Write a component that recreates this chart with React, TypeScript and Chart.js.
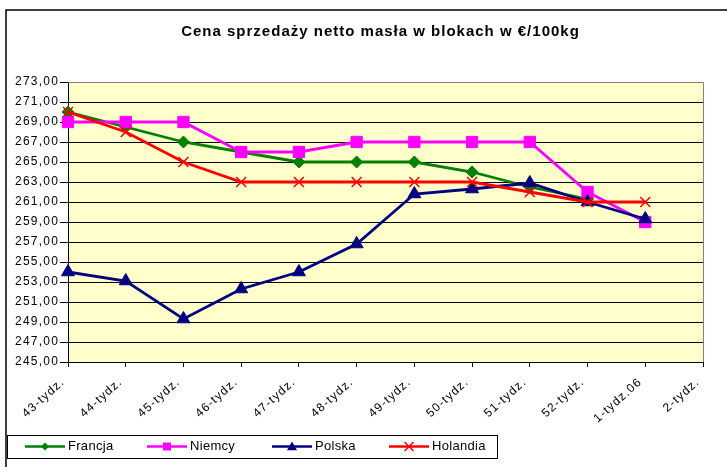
import React, { useEffect, useRef } from 'react';
import { Chart, registerables } from 'chart.js';

Chart.register(...registerables);

const TITLE = 'Cena sprzedaży netto masła w blokach w €/100kg';
const WEEKS = ['43-tydz.', '44-tydz.', '45-tydz.', '46-tydz.', '47-tydz.', '48-tydz.', '49-tydz.', '50-tydz.', '51-tydz.', '52-tydz.', '1-tydz.06', '2-tydz.'];
const SERIES_NAMES = ['Francja', 'Niemcy', 'Polska', 'Holandia'];
const FRANCJA = [270, 268.5, 267, 266, 265, 265, 265, 264, 262.5, 261.3, null, null];
const NIEMCY = [269, 269, 269, 266, 266, 267, 267, 267, 267, 262, 259, null];
const POLSKA = [254, 253.1, 249.3, 252.3, 254, 256.8, 261.8, 262.3, 262.9, 261, 259.3, null];
const HOLANDIA = [270, 268, 265, 263, 263, 263, 263, 263, 262, 261, 261, null];
const Y_MIN = 245;
const Y_MAX = 273;
const Y_STEP = 2;

const FONT = '"Liberation Sans", Arial, sans-serif';
const COLORS = ['#008000', '#FF00FF', '#000080', '#FF0000'];
const STYLES = ['rectRot', 'rect', 'triangle', 'crossRot'];
const Y_SPACING = '1.2px';
const X_SPACING = '1.2px';

function drawMarker(ctx: CanvasRenderingContext2D, style: string, x: number, y: number, r: number, color: string) {
  ctx.save();
  ctx.fillStyle = color;
  ctx.strokeStyle = color;
  ctx.lineWidth = 1.5;
  ctx.beginPath();
  if (style === 'rectRot') {
    ctx.moveTo(x - r, y); ctx.lineTo(x, y - r); ctx.lineTo(x + r, y); ctx.lineTo(x, y + r); ctx.closePath(); ctx.fill();
  } else if (style === 'rect') {
    ctx.rect(x - r, y - r, 2 * r, 2 * r); ctx.fill();
  } else if (style === 'triangle') {
    ctx.moveTo(x, y - r); ctx.lineTo(x + r, y + r * 0.75); ctx.lineTo(x - r, y + r * 0.75); ctx.closePath(); ctx.fill();
  } else {
    ctx.moveTo(x - r, y - r); ctx.lineTo(x + r, y + r); ctx.moveTo(x + r, y - r); ctx.lineTo(x - r, y + r); ctx.stroke();
  }
  ctx.restore();
}

const framePlugin = {
  id: 'frame',
  beforeDraw(chart: any) {
    const { ctx, chartArea: a } = chart;
    ctx.save();
    ctx.fillStyle = '#ffffff';
    ctx.fillRect(0, 0, chart.width, chart.height);
    ctx.fillStyle = '#FFFFCC';
    ctx.fillRect(a.left, a.top, a.right - a.left, a.bottom - a.top);
    ctx.restore();
    ctx.letterSpacing = Y_SPACING;
  },
  afterDatasetsDraw(chart: any) {
    chart.ctx.letterSpacing = X_SPACING;
  },
  afterDraw(chart: any) {
    const { ctx, chartArea: a } = chart;
    ctx.save();
    ctx.letterSpacing = '0px';
    // plot area top / right border
    ctx.strokeStyle = '#808080';
    ctx.lineWidth = 1;
    ctx.beginPath();
    ctx.moveTo(Math.round(a.left), Math.round(a.top) + 0.5);
    ctx.lineTo(Math.round(a.right) + 0.5, Math.round(a.top) + 0.5);
    ctx.lineTo(Math.round(a.right) + 0.5, Math.round(a.bottom));
    ctx.stroke();
    // outer chart border
    ctx.strokeStyle = '#000000';
    ctx.lineWidth = 1.5;
    ctx.strokeRect(6, 10, 900, 900);
    // title
    ctx.fillStyle = '#000000';
    ctx.font = 'bold 15px ' + FONT;
    ctx.letterSpacing = '1px';
    ctx.textAlign = 'center';
    ctx.textBaseline = 'middle';
    ctx.fillText(TITLE, (a.left + a.right) / 2 - 5, 32);
    // legend
    ctx.letterSpacing = '0.3px';
    ctx.lineWidth = 1;
    ctx.strokeStyle = '#000000';
    ctx.strokeRect(7.5, 435.5, 490, 23);
    const lineStarts = [25, 147, 272, 389];
    const ly = 446.5;
    ctx.font = '13px ' + FONT;
    ctx.textAlign = 'left';
    chart.data.datasets.forEach((ds: any, i: number) => {
      const x0 = lineStarts[i];
      ctx.strokeStyle = ds.borderColor;
      ctx.lineWidth = 2.5;
      ctx.beginPath();
      ctx.moveTo(x0, ly);
      ctx.lineTo(x0 + 40, ly);
      ctx.stroke();
      const rs = [4, 4, 5, 4.5];
      drawMarker(ctx, ds.pointStyle, x0 + 20, ly, rs[i], ds.borderColor);
      ctx.fillStyle = '#000000';
      ctx.fillText(ds.label, x0 + 43, ly);
    });
    ctx.restore();
    ctx.letterSpacing = '0px';
  },
};

export default function App() {
  const ref = useRef<HTMLCanvasElement | null>(null);
  useEffect(() => {
    document.body.style.margin = '0';
    const canvas = ref.current;
    if (!canvas) return;
    const seriesData = [FRANCJA, NIEMCY, POLSKA, HOLANDIA];
    const radii = [6, 8, 7.5, 7];
    const chart = new Chart(canvas, {
      type: 'line',
      data: {
        labels: WEEKS,
        datasets: SERIES_NAMES.map((name, i) => ({
          label: name,
          data: seriesData[i],
          borderColor: COLORS[i],
          backgroundColor: COLORS[i],
          pointBackgroundColor: COLORS[i],
          pointBorderColor: COLORS[i],
          pointStyle: STYLES[i],
          pointRadius: radii[i],
          pointBorderWidth: i === 3 ? 1.5 : 1,
          borderWidth: 2.8,
          tension: 0,
          spanGaps: false,
          clip: false,
          order: 4 - i,
        })),
      },
      options: {
        responsive: false,
        animation: false,
        devicePixelRatio: 1,
        layout: { padding: { top: 82, right: 24, bottom: 0, left: 0 } },
        plugins: {
          legend: { display: false },
          title: { display: false },
          tooltip: { enabled: false },
        },
        scales: {
          x: {
            type: 'category',
            offset: false,
            grid: { drawOnChartArea: false, drawTicks: true, tickLength: 5, color: '#000000' },
            border: { color: '#000000', width: 1 },
            ticks: {
              autoSkip: false,
              minRotation: 42,
              maxRotation: 42,
              padding: 8,
              labelOffset: -5,
              color: '#000000',
              font: { family: FONT, size: 12 },
              z: 1,
            },
            afterFit: (s: any) => { s.height = 105; },
          },
          y: {
            min: Y_MIN,
            max: Y_MAX,
            ticks: {
              stepSize: Y_STEP,
              color: '#000000',
              padding: 1,
              font: { family: FONT, size: 12 },
              callback: (v: any) => Number(v).toFixed(2).replace('.', ','),
            },
            grid: { color: '#000000', lineWidth: 1, tickLength: 8, drawTicks: true },
            border: { color: '#000000', width: 1 },
            afterFit: (s: any) => { s.width = 68; },
          },
        },
      },
      plugins: [framePlugin],
    });
    return () => chart.destroy();
  }, []);
  return (
    <div style={{ position: 'absolute', left: 0, top: 0, width: 727, height: 467 }}>
      <canvas ref={ref} width={727} height={467} style={{ display: 'block', width: 727, height: 467 }} />
    </div>
  );
}
